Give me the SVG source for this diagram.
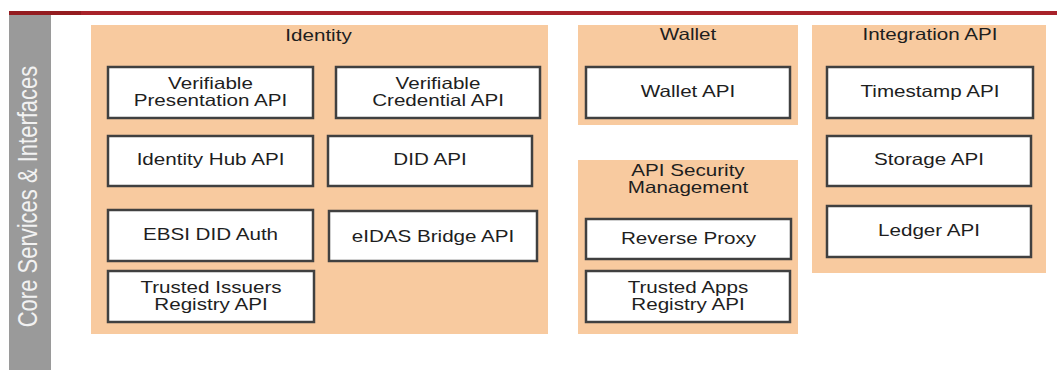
<svg xmlns="http://www.w3.org/2000/svg" width="1057" height="370" viewBox="0 0 1057 370">
<style>
.panel{fill:#f8ca9f;}
.box{fill:#ffffff;stroke:#404040;stroke-width:2.5;}
.t{font-family:"Liberation Sans",Arial,sans-serif;font-size:16.5px;fill:#1e1e1e;text-anchor:middle;}
.side{font-family:"Liberation Sans",Arial,sans-serif;font-size:22px;fill:#f2f2f2;text-anchor:middle;}
</style>
<rect x="0" y="0" width="1057" height="370" fill="#ffffff"/>
<g id="header">
<rect x="9" y="11" width="1048" height="4" fill="#a8222a"/>
<rect x="9" y="11" width="72" height="4" fill="#941c20"/>
</g>
<g id="sidebar">
<rect x="9" y="15" width="42" height="355" fill="#9a9a9a"/>
<text class="side" transform="translate(37,196.5) rotate(-90) scale(1,1.25)">Core Services &amp; Interfaces</text>
</g>
<g id="identity">
<rect class="panel" x="91" y="25" width="457" height="309"/>
<text class="t" transform="translate(318.5,41) scale(1.25,1)">Identity</text>
</g>
<g id="wallet">
<rect class="panel" x="578" y="25" width="220" height="100"/>
<text class="t" transform="translate(688,40) scale(1.25,1)">Wallet</text>
</g>
<g id="integration">
<rect class="panel" x="812" y="25" width="234" height="248"/>
<text class="t" transform="translate(930,40) scale(1.25,1)">Integration API</text>
</g>
<g id="apisec">
<rect class="panel" x="578" y="160" width="220" height="174"/>
<text class="t" transform="translate(688,176) scale(1.25,1)">API Security</text>
<text class="t" transform="translate(688,193) scale(1.25,1)">Management</text>
</g>
<g id="vp">
<rect class="box" x="108" y="67" width="205" height="51"/>
<text class="t" transform="translate(210.5,88.5) scale(1.25,1)">Verifiable</text>
<text class="t" transform="translate(210.5,105.5) scale(1.25,1)">Presentation API</text>
</g>
<g id="vc">
<rect class="box" x="336" y="67" width="204" height="51"/>
<text class="t" transform="translate(438,88.5) scale(1.25,1)">Verifiable</text>
<text class="t" transform="translate(438,105.5) scale(1.25,1)">Credential API</text>
</g>
<g id="ihub">
<rect class="box" x="108" y="136" width="205" height="50"/>
<text class="t" transform="translate(210.5,165) scale(1.25,1)">Identity Hub API</text>
</g>
<g id="did">
<rect class="box" x="328" y="136" width="204" height="50"/>
<text class="t" transform="translate(430,165) scale(1.25,1)">DID API</text>
</g>
<g id="ebsi">
<rect class="box" x="108" y="210" width="205" height="51"/>
<text class="t" transform="translate(210.5,240) scale(1.25,1)">EBSI DID Auth</text>
</g>
<g id="eidas">
<rect class="box" x="329" y="211" width="208" height="50"/>
<text class="t" transform="translate(433,242) scale(1.25,1)">eIDAS Bridge API</text>
</g>
<g id="tir">
<rect class="box" x="108" y="271" width="206" height="51"/>
<text class="t" transform="translate(211,293) scale(1.25,1)">Trusted Issuers</text>
<text class="t" transform="translate(211,310) scale(1.25,1)">Registry API</text>
</g>
<g id="walletapi">
<rect class="box" x="586" y="67" width="204" height="51"/>
<text class="t" transform="translate(688,97) scale(1.25,1)">Wallet API</text>
</g>
<g id="timestamp">
<rect class="box" x="827" y="67" width="206" height="51"/>
<text class="t" transform="translate(930,97) scale(1.25,1)">Timestamp API</text>
</g>
<g id="storage">
<rect class="box" x="827" y="136" width="204" height="50"/>
<text class="t" transform="translate(929,165) scale(1.25,1)">Storage API</text>
</g>
<g id="ledger">
<rect class="box" x="827" y="206" width="204" height="51"/>
<text class="t" transform="translate(929,236) scale(1.25,1)">Ledger API</text>
</g>
<g id="proxy">
<rect class="box" x="586" y="219" width="205" height="40"/>
<text class="t" transform="translate(688.5,244) scale(1.25,1)">Reverse Proxy</text>
</g>
<g id="tapps">
<rect class="box" x="586" y="271" width="204" height="51"/>
<text class="t" transform="translate(688,293) scale(1.25,1)">Trusted Apps</text>
<text class="t" transform="translate(688,310) scale(1.25,1)">Registry API</text>
</g>
<g id="connectors"></g>
</svg>
